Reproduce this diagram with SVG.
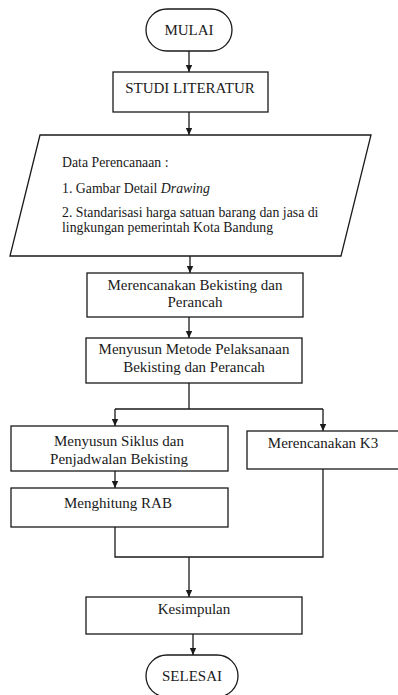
<svg xmlns="http://www.w3.org/2000/svg" width="398" height="695" viewBox="0 0 398 695">
<style>
.s{fill:#fff;stroke:#1a1a1a;stroke-width:1.3}
.c{fill:none;stroke:#1a1a1a;stroke-width:1.3}
text{font-family:'Liberation Serif',Tinos,'Times New Roman','DejaVu Serif',serif;font-size:15px;fill:#1a1a1a}
.m{text-anchor:middle}
.d{font-size:13.8px}
</style>
<defs>
<marker id="ah" markerUnits="userSpaceOnUse" markerWidth="8" markerHeight="8" refX="7" refY="4" orient="auto">
<path d="M0,0.8 L7,4 L0,7.2 z" fill="#1a1a1a"/>
</marker>
</defs>
<rect width="398" height="695" fill="#fff"/>
<g id="connectors">
<path class="c" d="M189,51 V72" marker-end="url(#ah)"/>
<path class="c" d="M189,112 V135" marker-end="url(#ah)"/>
<path class="c" d="M190,256 V273" marker-end="url(#ah)"/>
<path class="c" d="M189,317 V338" marker-end="url(#ah)"/>
<path class="c" d="M189,383 V409 M115,409 H323"/>
<path class="c" d="M115,409 V426" marker-end="url(#ah)"/>
<path class="c" d="M323,409 V431" marker-end="url(#ah)"/>
<path class="c" d="M115,471 V488" marker-end="url(#ah)"/>
<path class="c" d="M115,527 V557 H323 V469"/>
<path class="c" d="M189,557 V597" marker-end="url(#ah)"/>
<path class="c" d="M193,634 V655" marker-end="url(#ah)"/>
</g>
<g id="mulai">
<rect class="s" x="146" y="9" width="86" height="42" rx="21"/>
<text class="m" x="189" y="35">MULAI</text>
</g>
<g id="studi">
<rect class="s" x="113" y="72" width="155" height="40"/>
<text class="m" x="190" y="93">STUDI LITERATUR</text>
</g>
<g id="data">
<polygon class="s" points="40,135 371,135 341,256 10,256"/>
<text class="d" x="62" y="167">Data Perencanaan :</text>
<text class="d" x="62" y="193">1. Gambar Detail <tspan font-style="italic">Drawing</tspan></text>
<text class="d" x="62" y="217">2. Standarisasi harga satuan barang dan jasa di</text>
<text class="d" x="62" y="232">lingkungan pemerintah Kota Bandung</text>
</g>
<g id="merencanakan">
<rect class="s" x="87" y="273" width="216" height="44"/>
<text class="m" x="195" y="290">Merencanakan Bekisting dan</text>
<text class="m" x="195" y="307">Perancah</text>
</g>
<g id="metode">
<rect class="s" x="86" y="338" width="216" height="45"/>
<text class="m" x="194" y="354">Menyusun Metode Pelaksanaan</text>
<text class="m" x="194" y="372">Bekisting dan Perancah</text>
</g>
<g id="siklus">
<rect class="s" x="11" y="426" width="217" height="45"/>
<text class="m" x="119" y="446">Menyusun Siklus dan</text>
<text class="m" x="119" y="464">Penjadwalan Bekisting</text>
</g>
<g id="k3">
<rect class="s" x="247" y="431" width="160" height="38"/>
<text class="m" x="323" y="448">Merencanakan K3</text>
</g>
<g id="rab">
<rect class="s" x="11" y="488" width="217" height="39"/>
<text class="m" x="118" y="508">Menghitung RAB</text>
</g>
<g id="kesimpulan">
<rect class="s" x="86" y="597" width="216" height="37"/>
<text class="m" x="194" y="614">Kesimpulan</text>
</g>
<g id="selesai">
<rect class="s" x="146" y="655" width="92" height="42" rx="21"/>
<text class="m" x="192" y="681">SELESAI</text>
</g>
</svg>
